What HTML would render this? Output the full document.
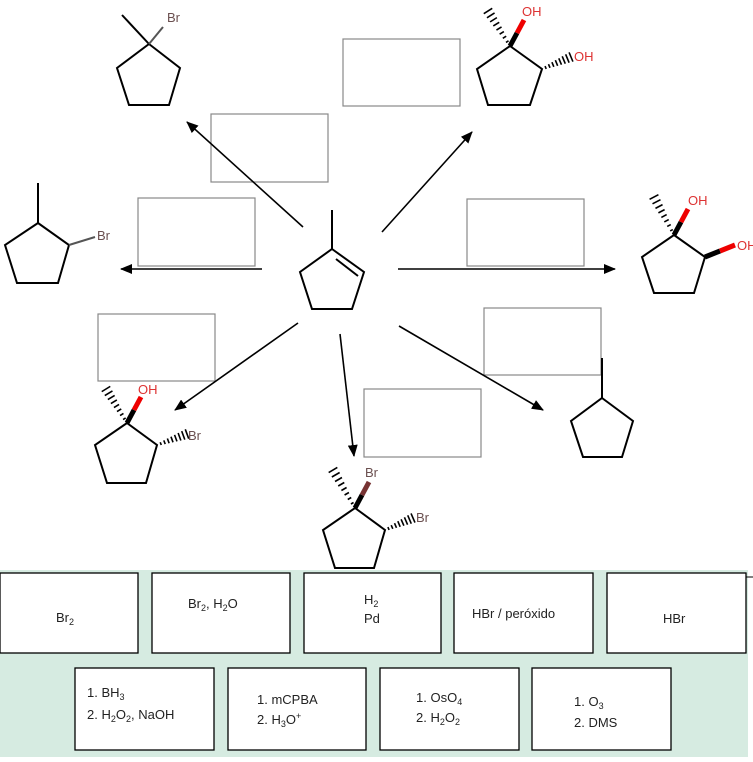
<!DOCTYPE html>
<html><head><meta charset="utf-8"><style>
html,body{margin:0;padding:0;background:#fff;}
svg{display:block;font-family:"Liberation Sans",Arial,sans-serif;}
</style></head><body>
<svg id="s" width="753" height="762" viewBox="0 0 753 762" xmlns="http://www.w3.org/2000/svg">
<defs>
<marker id="ah" markerWidth="12" markerHeight="10" refX="11" refY="5" orient="auto" markerUnits="userSpaceOnUse">
<path d="M0,0 L12,5 L0,10 z" fill="#000"/></marker>
</defs>
<g fill="none" stroke="#888" stroke-width="1.2">
<rect x="211" y="114" width="117" height="68"/>
<rect x="138" y="198" width="117" height="68"/>
<rect x="343" y="39" width="117" height="67"/>
<rect x="467" y="199" width="117" height="67"/>
<rect x="484" y="308" width="117" height="67"/>
<rect x="98" y="314" width="117" height="67"/>
<rect x="364" y="389" width="117" height="68"/>
</g>
<g stroke="#000" stroke-width="1.6" fill="none">
<line x1="303" y1="227" x2="187" y2="122" marker-end="url(#ah)"/>
<line x1="262" y1="269" x2="121" y2="269" marker-end="url(#ah)"/>
<line x1="382" y1="232" x2="472" y2="132" marker-end="url(#ah)"/>
<line x1="398" y1="269" x2="615" y2="269" marker-end="url(#ah)"/>
<line x1="399" y1="326" x2="543" y2="410" marker-end="url(#ah)"/>
<line x1="298" y1="323" x2="175" y2="410" marker-end="url(#ah)"/>
<line x1="340" y1="334" x2="354" y2="456" marker-end="url(#ah)"/>
</g>
<g stroke="#000" stroke-width="2" fill="none" stroke-linejoin="miter">
<polygon points="149,44 180,68 169,105 129,105 117,68"/>
<line x1="149" y1="44" x2="122" y2="15"/>
<line x1="149" y1="44" x2="163" y2="27" stroke="#555"/>
<polygon points="38,223 69,245 58,283 17,283 5,245"/>
<line x1="38" y1="223" x2="38" y2="183"/>
<line x1="69" y1="245" x2="95" y2="237" stroke="#555"/>
<polygon points="332,249 364,272 352,309 312,309 300,272"/>
<line x1="332" y1="249" x2="332" y2="210"/>
<line x1="336" y1="259" x2="358" y2="276"/>
<polygon points="510,46 542,69 530,105 488,105 477,69"/>
<polygon points="674,235 705,257 694,293 654,293 642,257"/>
<polygon points="602,398 633,421 622,457 583,457 571,421"/>
<line x1="602" y1="398" x2="602" y2="358"/>
<polygon points="127,423 157,445 146,483 107,483 95,445"/>
<polygon points="355,508 385,530 374,568 335,568 323,530"/>
</g>
<g id="hashes" stroke="#000" stroke-width="1.6"></g>
<g stroke-linecap="butt">
<line x1="510" y1="46" x2="517" y2="33" stroke="#000" stroke-width="5"/>
<line x1="517" y1="33" x2="524" y2="20" stroke="#e00" stroke-width="5"/>
<line x1="674" y1="235" x2="681" y2="222" stroke="#000" stroke-width="5"/>
<line x1="681" y1="222" x2="688" y2="209" stroke="#e00" stroke-width="5"/>
<line x1="705" y1="257" x2="720" y2="251" stroke="#000" stroke-width="5"/>
<line x1="720" y1="251" x2="735" y2="245" stroke="#e00" stroke-width="5"/>
<line x1="127" y1="423" x2="134" y2="410" stroke="#000" stroke-width="5"/>
<line x1="134" y1="410" x2="141" y2="397" stroke="#e00" stroke-width="5"/>
<line x1="355" y1="508" x2="362" y2="495" stroke="#000" stroke-width="5"/>
<line x1="362" y1="495" x2="369" y2="482" stroke="#733" stroke-width="5"/>
</g>
<g font-size="13">
<text x="167" y="22" fill="#6a4f4f">Br</text>
<text x="97" y="240" fill="#6a4f4f">Br</text>
<text x="522" y="16" fill="#d33">OH</text>
<text x="574" y="61" fill="#d33">OH</text>
<text x="688" y="205" fill="#d33">OH</text>
<text x="737" y="250" fill="#d33">OH</text>
<text x="138" y="394" fill="#d33">OH</text>
<text x="188" y="440" fill="#6a4f4f">Br</text>
<text x="365" y="477" fill="#6a4f4f">Br</text>
<text x="416" y="522" fill="#6a4f4f">Br</text>
</g>
<rect x="0" y="570" width="748" height="187" fill="#d6ebe1"/>
<line x1="746" y1="577" x2="753" y2="577" stroke="#000" stroke-width="1"/>
<g fill="#fff" stroke="#000" stroke-width="1.3">
<rect x="0" y="573" width="138" height="80"/>
<rect x="152" y="573" width="138" height="80"/>
<rect x="304" y="573" width="137" height="80"/>
<rect x="454" y="573" width="139" height="80"/>
<rect x="607" y="573" width="139" height="80"/>
<rect x="75" y="668" width="139" height="82"/>
<rect x="228" y="668" width="138" height="82"/>
<rect x="380" y="668" width="139" height="82"/>
<rect x="532" y="668" width="139" height="82"/>
</g>
<g font-size="13" fill="#222">
<text x="56" y="622">Br<tspan font-size="9" dy="3">2</tspan></text>
<text x="188" y="608">Br<tspan font-size="9" dy="3">2</tspan><tspan dy="-3">, H</tspan><tspan font-size="9" dy="3">2</tspan><tspan dy="-3">O</tspan></text>
<text x="364" y="604">H<tspan font-size="9" dy="3">2</tspan></text>
<text x="364" y="623">Pd</text>
<text x="472" y="618">HBr / peróxido</text>
<text x="663" y="623">HBr</text>
<text x="87" y="697">1. BH<tspan font-size="9" dy="3">3</tspan></text>
<text x="87" y="719">2. H<tspan font-size="9" dy="3">2</tspan><tspan dy="-3">O</tspan><tspan font-size="9" dy="3">2</tspan><tspan dy="-3">, NaOH</tspan></text>
<text x="257" y="704">1. mCPBA</text>
<text x="257" y="724">2. H<tspan font-size="9" dy="3">3</tspan><tspan dy="-3">O</tspan><tspan font-size="9" dy="-5">+</tspan></text>
<text x="416" y="702">1. OsO<tspan font-size="9" dy="3">4</tspan></text>
<text x="416" y="722">2. H<tspan font-size="9" dy="3">2</tspan><tspan dy="-3">O</tspan><tspan font-size="9" dy="3">2</tspan></text>
<text x="574" y="706">1. O<tspan font-size="9" dy="3">3</tspan></text>
<text x="574" y="727">2. DMS</text>
</g>
</svg>
<script>
(function(){
var g=document.getElementById('hashes');
var H=[[510,46,488,11],[542,69,571,57],[674,235,654,197],[127,423,106,389],[157,445,187,434],[355,508,333,470],[385,530,413,518]];
H.forEach(function(h){
var dx=h[2]-h[0],dy=h[3]-h[1],L=Math.sqrt(dx*dx+dy*dy),px=-dy/L,py=dx/L,n=8;
for(var i=1;i<=n;i++){var t=i/n,cx=h[0]+dx*t,cy=h[1]+dy*t,w=1+4*t;
var l=document.createElementNS('http://www.w3.org/2000/svg','line');
l.setAttribute('x1',cx-px*w);l.setAttribute('y1',cy-py*w);l.setAttribute('x2',cx+px*w);l.setAttribute('y2',cy+py*w);g.appendChild(l);}
});
})();
</script>
</body></html>
